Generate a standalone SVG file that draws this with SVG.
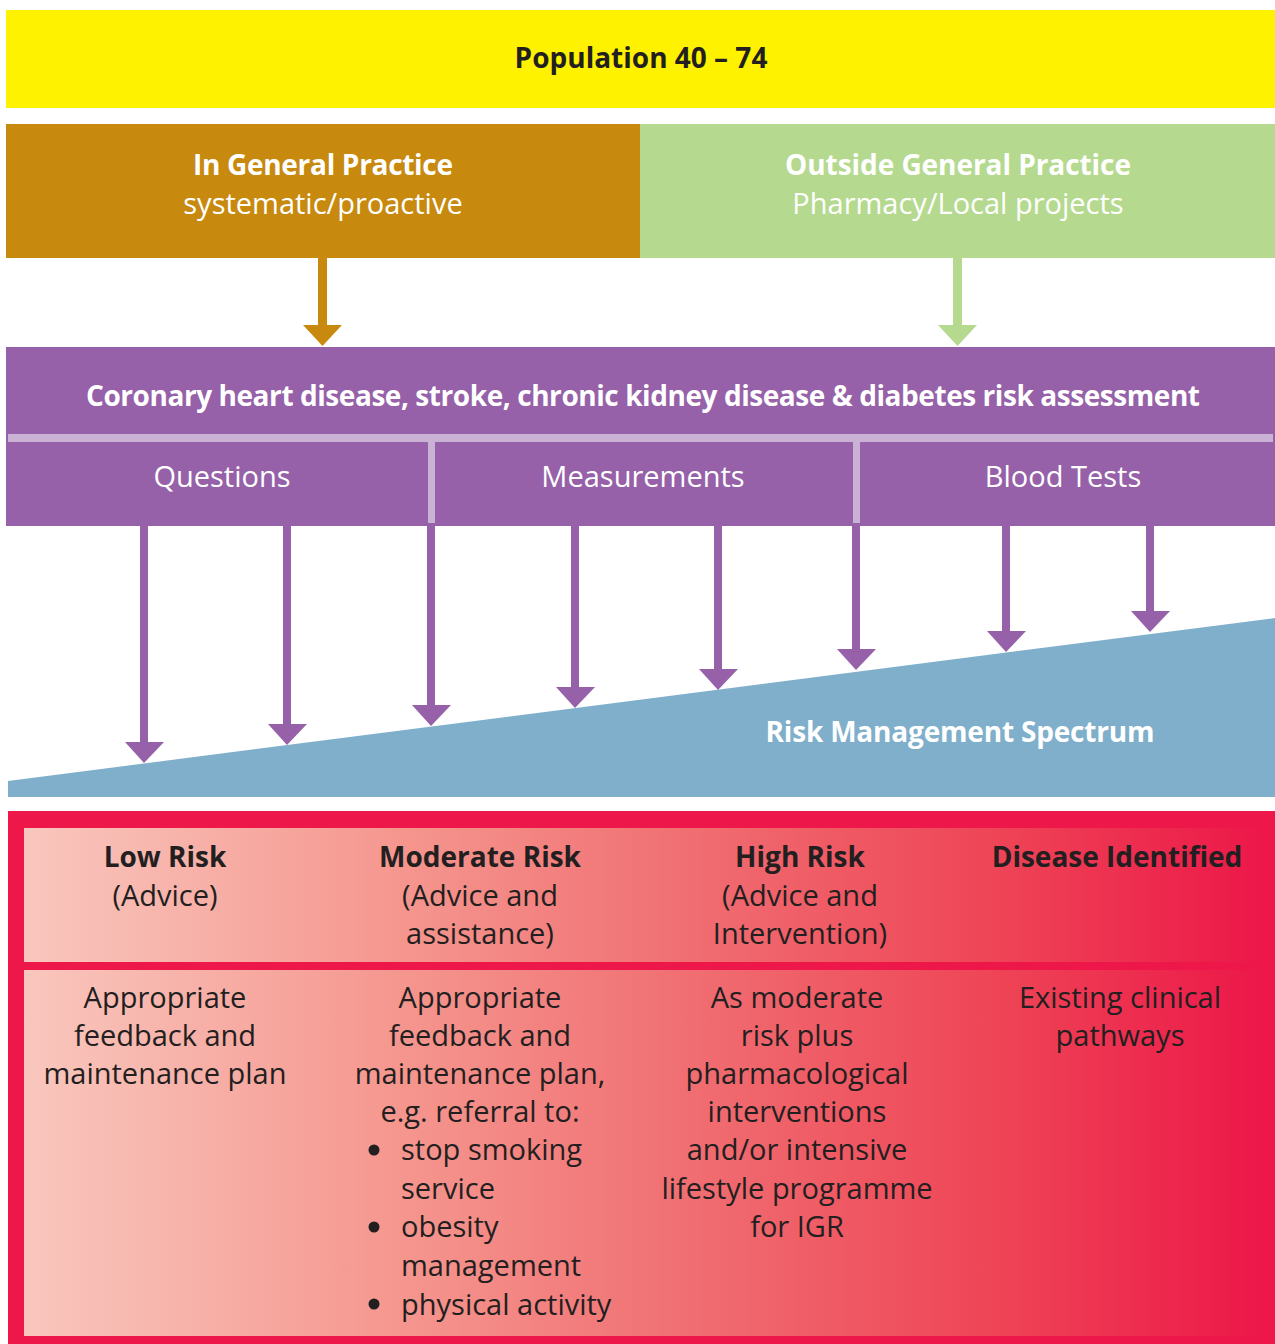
<svg xmlns="http://www.w3.org/2000/svg" width="1275" height="1344" viewBox="0 0 1275 1344">
<style>
text{font-family:"Open Sans","Noto Sans",sans-serif;font-size:29px;text-anchor:middle}
.w{fill:#ffffff}
.d{fill:#231F20}
.b{font-weight:bold;font-size:28px}
.l{text-anchor:start}
.pur{fill:#9661A8}
</style>
<defs>
<linearGradient id="rg" x1="0" y1="0" x2="1" y2="0">
<stop offset="0" stop-color="#F9C7BE"/>
<stop offset="0.3" stop-color="#F5978F"/>
<stop offset="0.55" stop-color="#F06C70"/>
<stop offset="0.8" stop-color="#EE4255"/>
<stop offset="1" stop-color="#EC1849"/>
</linearGradient>
</defs>
<rect width="1275" height="1344" fill="#ffffff"/>
<g id="population">
<rect x="6" y="10" width="1269" height="98" fill="#FFF200"/>
<text x="641" y="68" class="d b">Population 40 – 74</text>
</g>
<g id="in-gp">
<rect x="6" y="124" width="634" height="134" fill="#C8890F"/>
<text x="323" y="175" class="w b" textLength="260">In General Practice</text>
<text x="323" y="214" class="w">systematic/proactive</text>
</g>
<g id="outside-gp">
<rect x="640" y="124" width="635" height="134" fill="#B5DA8F"/>
<text x="958" y="175" class="w b" textLength="346">Outside General Practice</text>
<text x="958" y="214" class="w">Pharmacy/Local projects</text>
</g>
<g id="assessment">
<rect x="6" y="347" width="1269" height="179" class="pur"/>
<rect x="8" y="434" width="1265" height="8" fill="#C9B2D6"/>
<rect x="428" y="442" width="7" height="81" fill="#C9B2D6"/>
<rect x="853" y="442" width="7" height="81" fill="#C9B2D6"/>
<text x="643" y="406" class="w b" textLength="1114">Coronary heart disease, stroke, chronic kidney disease &amp; diabetes risk assessment</text>
<text x="222" y="487" class="w">Questions</text>
<text x="643" y="487" class="w">Measurements</text>
<text x="1063" y="487" class="w">Blood Tests</text>
</g>
<g id="spectrum">
<polygon points="8,781 1275,618 1275,797 8,797" fill="#7FAFCB"/>
<text x="960" y="742" class="w b" textLength="389">Risk Management Spectrum</text>
</g>
<g id="connectors">
<rect x="318" y="258" width="9" height="67" fill="#C8890F"/>
<polygon points="303,325 342,325 322.5,346" fill="#C8890F"/>
<rect x="953" y="258" width="9" height="67" fill="#B5DA8F"/>
<polygon points="938,325 977,325 957.5,346" fill="#B5DA8F"/>
<g class="pur">
<rect x="140" y="526" width="8" height="217"/><polygon points="125,742 164,742 144,763"/>
<rect x="283" y="526" width="8" height="199"/><polygon points="268,724 307,724 287,745"/>
<rect x="427" y="526" width="8" height="180"/><polygon points="412,705 451,705 431,726"/>
<rect x="571" y="526" width="8" height="162"/><polygon points="556,687 595,687 575,708"/>
<rect x="714" y="526" width="8" height="144"/><polygon points="699,669 738,669 718,690"/>
<rect x="852" y="526" width="8" height="124"/><polygon points="837,649 876,649 856,670"/>
<rect x="1002" y="526" width="8" height="106"/><polygon points="987,631 1026,631 1006,652"/>
<rect x="1146" y="526" width="8" height="86"/><polygon points="1131,611 1170,611 1150,632"/>
</g>
</g>
<g id="risk-table">
<rect x="8" y="811" width="1267" height="533" fill="#ED1749"/>
<rect x="24" y="828" width="1236" height="134" fill="url(#rg)"/>
<rect x="24" y="970" width="1236" height="366" fill="url(#rg)"/>
</g>
<g id="low-risk">
<text x="165" y="867" class="d b">Low Risk</text>
<text x="165" y="906" class="d">(Advice)</text>
<text x="165" y="1008" class="d">Appropriate</text>
<text x="165" y="1046" class="d">feedback and</text>
<text x="165" y="1084" class="d">maintenance plan</text>
</g>
<g id="moderate-risk">
<text x="480" y="867" class="d b">Moderate  Risk</text>
<text x="480" y="906" class="d">(Advice and</text>
<text x="480" y="944" class="d">assistance)</text>
<text x="480" y="1008" class="d">Appropriate</text>
<text x="480" y="1046" class="d">feedback and</text>
<text x="480" y="1084" class="d">maintenance plan,</text>
<text x="480" y="1122" class="d">e.g. referral to:</text>
<circle cx="374" cy="1150" r="5.5" fill="#231F20"/>
<circle cx="374" cy="1227" r="5.5" fill="#231F20"/>
<circle cx="374" cy="1304" r="5.5" fill="#231F20"/>
<text x="401" y="1160" class="d l">stop smoking</text>
<text x="401" y="1199" class="d l">service</text>
<text x="401" y="1237" class="d l">obesity</text>
<text x="401" y="1276" class="d l">management</text>
<text x="401" y="1315" class="d l">physical activity</text>
</g>
<g id="high-risk">
<text x="800" y="867" class="d b">High Risk</text>
<text x="800" y="906" class="d">(Advice and</text>
<text x="800" y="944" class="d">Intervention)</text>
<text x="797" y="1008" class="d">As moderate</text>
<text x="797" y="1046" class="d">risk plus</text>
<text x="797" y="1084" class="d">pharmacological</text>
<text x="797" y="1122" class="d">interventions</text>
<text x="797" y="1160" class="d">and/or intensive</text>
<text x="797" y="1199" class="d">lifestyle programme</text>
<text x="797" y="1237" class="d">for IGR</text>
</g>
<g id="disease-identified">
<text x="1117" y="867" class="d b">Disease Identified</text>
<text x="1120" y="1008" class="d">Existing clinical</text>
<text x="1120" y="1046" class="d">pathways</text>
</g>
</svg>
